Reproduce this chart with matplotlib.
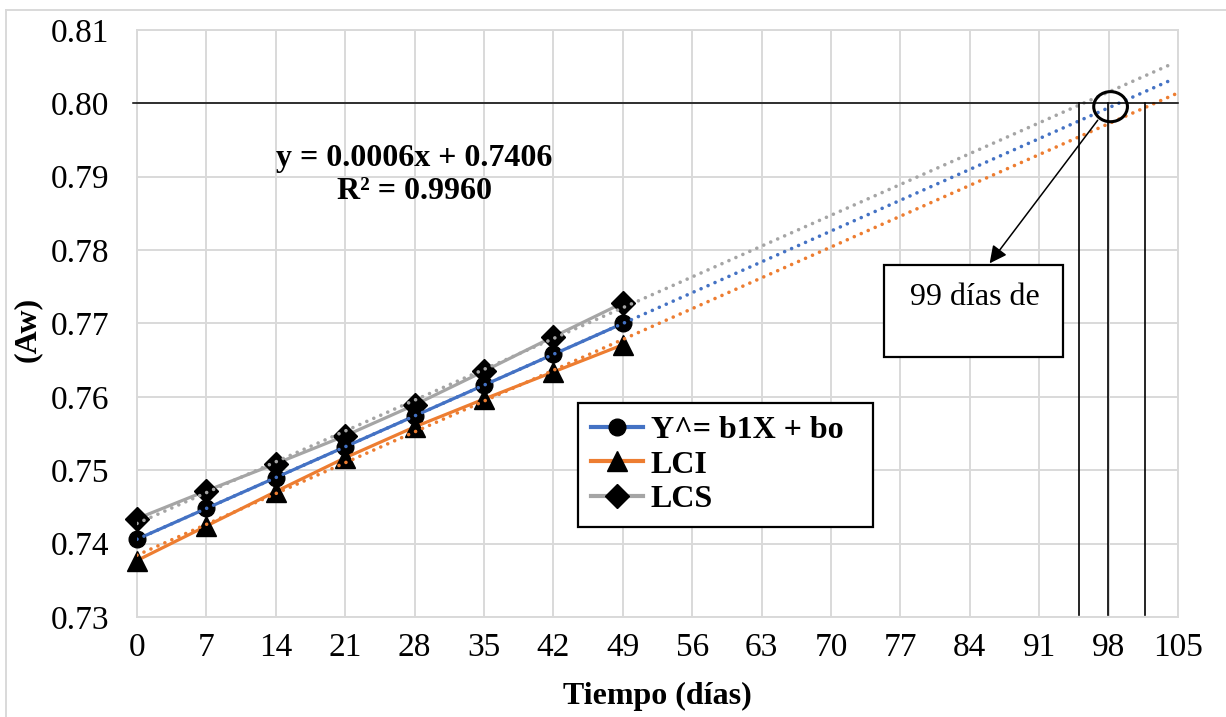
import numpy as np
import matplotlib
matplotlib.use("Agg")
import matplotlib.pyplot as plt
from matplotlib.patches import Ellipse, Rectangle
from matplotlib.lines import Line2D

plt.rcParams['font.family'] = ['Liberation Serif', 'DejaVu Serif']

# Storage time (days) and water activity estimates
dias = [0, 7, 14, 21, 28, 35, 42, 49]
y_est = [0.7406, 0.7448, 0.7490, 0.7532, 0.7574, 0.7616, 0.7658, 0.7700]
lci = [0.7377, 0.7424, 0.7471, 0.7517, 0.7559, 0.7597, 0.7634, 0.7671]
lcs = [0.7434, 0.7472, 0.7509, 0.7547, 0.7589, 0.7635, 0.7682, 0.7728]

series_labels = ["Y^= b1X + bo", "LCI", "LCS"]
series_colors = ["#4472C4", "#ED7D31", "#A5A5A5"]
series_markers = ["o", "^", "D"]
trend_end = [104, 105, 104]   # forward forecast of each trendline (days)

aw_limite = 0.80
guide_days = [95.0, 97.9, 101.7]   # vertical guide lines down to the x axis
x_ticks = list(range(0, 106, 7))
y_ticks = [0.73, 0.74, 0.75, 0.76, 0.77, 0.78, 0.79, 0.80, 0.81]

FS = 23

W, H = 1226, 717
fig = plt.figure(figsize=(W / 100, H / 100), dpi=100)
L, R, T, B = 137, 1178, 30, 617
ax = fig.add_axes([L / W, 1 - B / H, (R - L) / W, (B - T) / H])

ax.set_xlim(0, 105)
ax.set_ylim(0.73, 0.81)
ax.set_xticks(x_ticks)
ax.set_yticks(y_ticks)
ax.set_yticklabels([f"{v:.2f}" for v in y_ticks])
ax.tick_params(length=0, labelsize=24, colors="black")
ax.tick_params(axis="x", pad=11)
ax.tick_params(axis="y", pad=20)
ax.grid(True, color="#D9D9D9", linewidth=1.4)
ax.set_axisbelow(True)
for s in ax.spines.values():
    s.set_color("#D9D9D9")
    s.set_linewidth(1.4)

marker_size = {"o": 12, "^": 14.5, "D": 12}
handles = []
for vals, lab, col, mk, x_end in zip([y_est, lci, lcs], series_labels,
                                       series_colors, series_markers, trend_end):
    ms = marker_size[mk]
    ax.plot(dias, vals, color=col, linewidth=2.3, marker=mk, markersize=ms,
            markerfacecolor="black", markeredgecolor="black", zorder=3,
            clip_on=False)
    m, b = np.polyfit(dias, vals, 1)
    xt = np.array([0, x_end])
    ax.plot(xt, m * xt + b, color=col, linewidth=2.6,
            linestyle=(0, (0.01, 2.1)), dash_capstyle="round", zorder=4)
    handles.append(Line2D([], [], color=col, linewidth=3, marker=mk,
                          markersize=ms, markerfacecolor="black",
                          markeredgecolor="black"))

# Shelf-life limit and guide lines
ax.plot([-0.4, 105], [aw_limite, aw_limite], color="black", linewidth=1.1,
        zorder=5, clip_on=False)
for d in guide_days:
    ax.plot([d, d], [aw_limite, 0.7303], color="black", linewidth=1.2, zorder=5)

ax.add_patch(Ellipse((98.2, 0.79955), 3.4, 0.0041, fill=False,
                     edgecolor="black", linewidth=2.2, zorder=6))
ax.annotate("", xy=(86.0, 0.7782), xytext=(96.9, 0.7977),
            arrowprops=dict(arrowstyle="-|>", color="black", lw=1.1,
                            mutation_scale=26, shrinkA=0, shrinkB=0),
            zorder=6)
ax.add_patch(Rectangle((75.35, 0.7655), 18.05, 0.01247, fill=True,
                       facecolor="white", edgecolor="black", linewidth=1.6,
                       zorder=6))
ax.text(84.5, 0.7736, "99 días de", ha="center", va="center", fontsize=FS,
        zorder=7)

# Regression equation
ax.text(28.0, 0.7925, "y = 0.0006x + 0.7406", ha="center", va="center",
        fontsize=FS, fontweight="bold", zorder=7)
ax.text(28.0, 0.7880, "R² = 0.9960", ha="center", va="center",
        fontsize=FS, fontweight="bold", zorder=7)

leg = ax.legend(handles, series_labels, loc="upper left",
                bbox_to_anchor=(578 / W, 1 - 527 / H, 295 / W, 124 / H),
                mode="expand",
                bbox_transform=fig.transFigure, borderaxespad=0,
                prop={"weight": "bold", "size": FS}, handlelength=1.65,
                handletextpad=0.22, labelspacing=0.16, borderpad=0.4,
                fancybox=False, framealpha=1, edgecolor="black")
leg.get_frame().set_linewidth(1.6)
leg.set_zorder(8)

ax.set_xlabel("Tiempo (días)", fontsize=FS, fontweight="bold")
ax.xaxis.set_label_coords(0.5, -0.11)
ax.set_ylabel("(Aw)", fontsize=FS, fontweight="bold")
ax.yaxis.set_label_coords(-0.091, 0.49)

# Chart area border
fig.add_artist(Line2D([6 / W, 6 / W], [0, 1 - 10 / H], transform=fig.transFigure,
                      color="#D9D9D9", linewidth=1.4))
fig.add_artist(Line2D([6 / W, 1], [1 - 10 / H, 1 - 10 / H],
                      transform=fig.transFigure, color="#D9D9D9", linewidth=1.4))

fig.savefig("out.png", dpi=100)
